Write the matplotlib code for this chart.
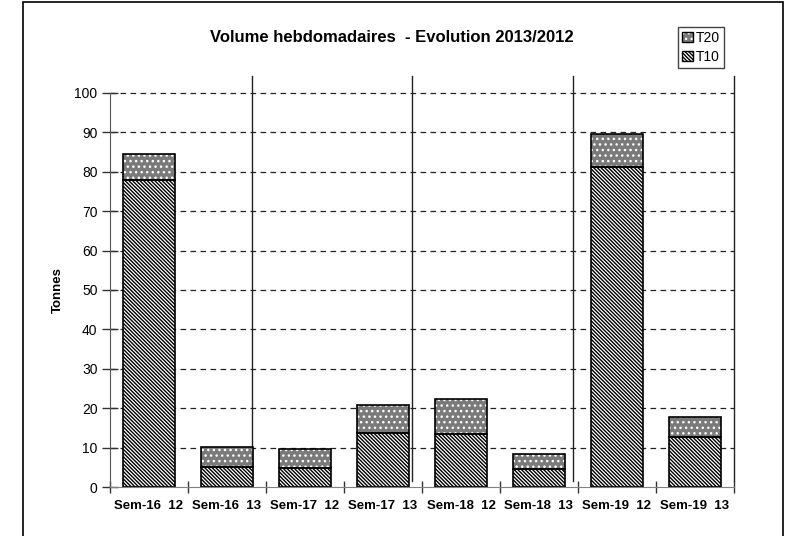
import numpy as np
import matplotlib
matplotlib.use('Agg')
import matplotlib.pyplot as plt
from matplotlib.patches import Patch, Rectangle

plt.rcParams['font.family'] = ['Liberation Sans', 'DejaVu Sans']
plt.rcParams['hatch.linewidth'] = 1.0

# data
weeks = ['Sem-16  12', 'Sem-16  13', 'Sem-17  12', 'Sem-17  13',
         'Sem-18  12', 'Sem-18  13', 'Sem-19  12', 'Sem-19  13']
t10 = [77.9, 5.0, 4.8, 13.8, 13.4, 4.6, 81.3, 12.6]
t20 = [6.6, 5.2, 4.8, 7.0, 8.9, 3.8, 8.2, 5.1]
y_ticks = [0, 10, 20, 30, 40, 50, 60, 70, 80, 90, 100]
separators = [1.32, 3.37, 5.44, 7.5]

fig = plt.figure(figsize=(7.94, 5.36), dpi=100)
ax = fig.add_axes([0.1385, 0.0914, 0.7859, 0.7668])

x = np.arange(len(weeks))
w = 0.66
stripes = '\\' * 9
dots = '...'

# T10 : white with black diagonal stripes
ax.bar(x, t10, w, color='white', edgecolor='black', hatch=stripes, linewidth=0, zorder=3)
ax.bar(x, t10, w, fill=False, edgecolor='black', linewidth=1.2, zorder=4)
# T20 : grey with white dots
ax.bar(x, t20, w, bottom=t10, color='#7a7a7a', edgecolor='white', hatch=dots, linewidth=0, zorder=3)
ax.bar(x, t20, w, bottom=t10, fill=False, edgecolor='black', linewidth=1.2, zorder=4)

ymax = 104.3
ax.set_xlim(-0.5, len(weeks) - 0.5)
ax.set_ylim(0, ymax)

# dashed grid
for v in y_ticks[1:]:
    ax.axhline(v, color='#222222', lw=0.9, ls=(0, (4.5, 3.5)), zorder=1)

# vertical separators
for s in separators:
    ax.axvline(s, ymin=1.5 / ymax, ymax=1, color='#222222', lw=1.0, zorder=2, clip_on=False)

for sp in ['top', 'right']:
    ax.spines[sp].set_visible(False)
ax.spines['left'].set_bounds(0, 100)
ax.spines['left'].set_color('#555555')
ax.spines['bottom'].set_color('#808080')
ax.spines['left'].set_zorder(5)
ax.spines['bottom'].set_zorder(5)

ax.set_yticks(y_ticks)
ax.tick_params(axis='y', direction='inout', length=12, width=1, color='#333333',
               labelsize=10, pad=3)

ax.set_xticks(x)
ax.set_xticklabels(weeks, fontweight='bold', fontsize=9.5)
ax.tick_params(axis='x', which='major', length=0, pad=9)
ax.set_xticks(np.arange(len(weeks) + 1) - 0.5, minor=True)
ax.tick_params(axis='x', which='minor', direction='inout', length=9, width=1, color='#333333')

ax.set_ylabel('Tonnes', fontweight='bold', fontsize=9.5)
ax.yaxis.set_label_coords(-0.074, 50 / ymax)

fig.text(392 / 794, 1 - 37 / 536, 'Volume hebdomadaires  - Evolution 2013/2012',
         ha='center', va='center', fontweight='bold', fontsize=12)

h20 = (Patch(facecolor='#7a7a7a', edgecolor='white', hatch=dots, linewidth=0),
       Patch(fill=False, edgecolor='black', linewidth=1))
h10 = (Patch(facecolor='white', edgecolor='black', hatch=stripes, linewidth=0),
       Patch(fill=False, edgecolor='black', linewidth=1))
leg = fig.legend([h20, h10], ['T20', 'T10'], loc='upper left',
                 bbox_to_anchor=(678 / 794, 1 - 27 / 536), fontsize=10,
                 fancybox=False, framealpha=1, edgecolor='#444444',
                 handlelength=0.75, handleheight=0.75, handletextpad=0.2,
                 borderpad=0.3, labelspacing=0.35, borderaxespad=0)
leg.get_frame().set_linewidth(1)

# outer frame
fig.patches.append(Rectangle((23 / 794, -0.1), (783 - 23) / 794, 1.1 - 2 / 536,
                             transform=fig.transFigure, fill=False,
                             edgecolor='black', linewidth=1.2))

fig.savefig('out.png', dpi=100)
